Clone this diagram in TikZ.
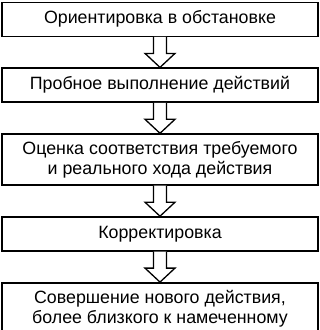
\documentclass[tikz,border=0pt]{standalone}
\usepackage{fontspec}
\setmainfont{Liberation Sans}
\usetikzlibrary{positioning,calc}

\newcommand{\flowarrow}[2]{%
  \draw[flowarr] ($(#1.south)+(-6.5,0)$) -- ($(#2.north)+(-6.5,14)$) -- ($(#2.north)+(-15,14)$) -- (#2.north) -- ($(#2.north)+(15,14)$) -- ($(#2.north)+(6.5,14)$) -- ($(#1.south)+(6.5,0)$);}

\begin{document}
\begin{tikzpicture}[x=1pt,y=1pt,node distance=30.5pt,
  stage/.style={draw,line width=1.4pt,minimum width=316pt,minimum height=34pt,inner sep=2pt,align=center,font=\fontsize{17.8}{20}\selectfont},
  flowarr/.style={draw,fill=white,line width=1.3pt,line join=miter}]
\fill[white] (0,0) rectangle (320,-330);
\useasboundingbox (0,0) rectangle (320,-330);
\node[stage,anchor=north] (orient) at (160,-1.5) {Ориентировка в обстановке};
\node[stage,below=of orient] (trial) {Пробное выполнение действий};
\node[stage,minimum height=51pt,below=of trial] (assess) {Оценка соответствия требуемого\\и реального хода действия};
\node[stage,below=of assess] (correct) {Корректировка};
\node[stage,minimum height=51pt,below=of correct] (newact) {Совершение нового действия,\\более близкого к намеченному};
\flowarrow{orient}{trial}
\flowarrow{trial}{assess}
\flowarrow{assess}{correct}
\flowarrow{correct}{newact}
\end{tikzpicture}
\end{document}
